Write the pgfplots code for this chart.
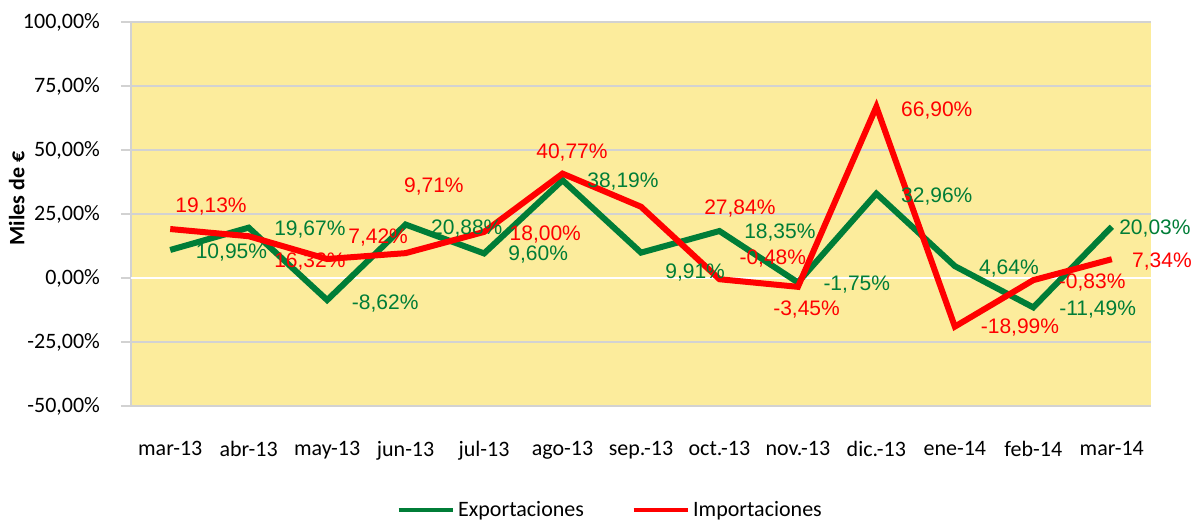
\documentclass[border=0pt]{standalone}
\usepackage{pgfplots}
\pgfplotsset{compat=1.18}
\usepackage{pgfplotstable}
\usepackage{fontspec}
\setmainfont{Carlito}
\newfontfamily\lib{Liberation Sans}
\definecolor{bgyel}{RGB}{252,236,156}
\definecolor{expg}{RGB}{0,125,55}
\definecolor{impr}{RGB}{255,0,0}
\definecolor{gridg}{RGB}{210,210,210}

\pgfplotstableread{
x y
0 10.95
1 19.67
2 -8.62
3 20.88
4 9.60
5 38.19
6 9.91
7 18.35
8 -1.75
9 32.96
10 4.64
11 -11.49
12 20.03
}\exportdata
\pgfplotstableread{
x y
0 19.13
1 16.32
2 7.42
3 9.71
4 18.00
5 40.77
6 27.84
7 -0.48
8 -3.45
9 66.90
10 -18.99
11 -0.83
12 7.34
}\importdata
\pgfplotstableread{
x y lab
0.78 9.8 10,95
1.78 18.8 19,67
2.74 -9.8 -8,62
3.78 19.5 20,88
4.69 9.0 9,60
5.77 37.5 38,19
6.69 2.3 9,91
7.77 17.6 18,35
8.75 -2.7 -1,75
9.77 31.7 32,96
10.69 3.9 4,64
11.82 -12.5 -11,49
12.55 19.5 20,03
}\explabels
\pgfplotstableread{
x y lab
0.52 27.9 19,13
1.78 6.3 16,32
2.65 16.0 7,42
3.36 35.6 9,71
4.78 16.8 18,00
5.12 49.2 40,77
7.26 27.3 27,84
7.68 7.8 -0,48
8.11 -12.5 -3,45
9.77 65.6 66,90
10.83 -19.5 -18,99
11.75 -1.6 -0,83
12.64 6.3 7,34
}\implabels

\begin{document}
\begin{tikzpicture}
\useasboundingbox (-65.5pt,-57pt) rectangle (531.5pt,203pt);
\begin{axis}[
  at={(0,0)}, anchor=south west,
  scale only axis, width=510pt, height=192pt,
  xmin=-0.5, xmax=12.5, ymin=-50, ymax=100,
  axis background/.style={fill=bgyel},
  axis y line*=left, axis x line*=bottom,
  x axis line style={draw=none},
  y axis line style={draw=gridg, line width=0.6pt},
  xtick={0,...,12},
  xticklabels={mar-13,abr-13,may-13,jun-13,jul-13,ago-13,sep.-13,oct.-13,nov.-13,dic.-13,ene-14,feb-14,mar-14},
  x tick style={draw=none},
  xticklabel style={font=\fontsize{11}{13}\selectfont, yshift=-9pt},
  ytick={-50,-25,0,25,50,75,100},
  yticklabels={{-50,00\%},{-25,00\%},{0,00\%},{25,00\%},{50,00\%},{75,00\%},{100,00\%}},
  yticklabel style={font=\fontsize{11}{13}\selectfont, xshift=-7pt},
  y tick style={draw=gridg, line width=0.6pt},
  tick align=outside, major tick length=5pt,
  ymajorgrids, grid style={draw=gridg, line width=0.6pt},
  ylabel={\bfseries Miles de €},
  every axis y label/.append style={at={(axis description cs:-0.112,0.54)}, anchor=center, font=\fontsize{11}{13}\selectfont},
  legend style={draw=none, fill=none, at={(0.471,-0.271)}, anchor=center, legend columns=2,
    font=\fontsize{11}{13}\selectfont,
    /tikz/every even column/.append style={column sep=22pt}},
  legend image code/.code={\draw[#1, line width=1.6pt] (0pt,0pt) -- (27pt,0pt);},
  clip=false,
]
\draw[white, line width=1pt] (axis cs:-0.5,0) -- (axis cs:12.5,0);
\addplot[expg, line width=3pt, mark=none] table[x=x,y=y] {\exportdata};
\addlegendentry{Exportaciones}
\addplot[impr, line width=3pt, mark=none] table[x=x,y=y] {\importdata};
\addlegendentry{Importaciones}
\addplot[only marks, mark=none, forget plot, point meta=explicit symbolic,
  nodes near coords={\pgfplotspointmeta\%},
  every node near coord/.style={anchor=center, text=expg, font=\lib\fontsize{10.5}{12}\selectfont, inner sep=0pt}]
  table[x=x,y=y,meta=lab] {\explabels};
\addplot[only marks, mark=none, forget plot, point meta=explicit symbolic,
  nodes near coords={\pgfplotspointmeta\%},
  every node near coord/.style={anchor=center, text=impr, font=\lib\fontsize{10.5}{12}\selectfont, inner sep=0pt}]
  table[x=x,y=y,meta=lab] {\implabels};
\end{axis}
\end{tikzpicture}
\end{document}
